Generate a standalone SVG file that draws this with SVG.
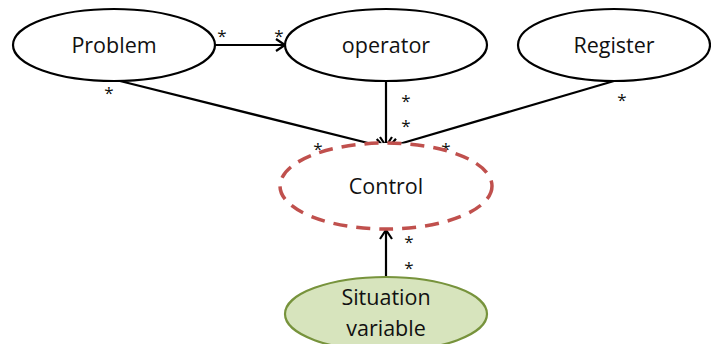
<svg xmlns="http://www.w3.org/2000/svg" width="711" height="344" viewBox="0 0 711 344">
<style>
.node{fill:#fff;stroke:#000;stroke-width:2.2}
.lbl{font-family:"Open Sans","Noto Sans",sans-serif;font-size:21.5px;fill:#111;text-anchor:middle}
.star{font-family:"Open Sans","Noto Sans",sans-serif;font-size:17px;fill:#111;text-anchor:middle}
.conn{stroke:#000;stroke-width:2.2;fill:none}
</style>
<defs>
<marker id="arr" markerWidth="14" markerHeight="14" refX="11" refY="7" orient="auto" markerUnits="userSpaceOnUse">
<path d="M2,1 L11,7 L2,13" fill="none" stroke="#000" stroke-width="2.2"/>
</marker>
</defs>
<rect width="711" height="344" fill="#fff"/>
<g id="connectors">
<line class="conn" x1="215" y1="45" x2="285" y2="45" marker-end="url(#arr)"/>
<line class="conn" x1="120" y1="81" x2="384" y2="147" marker-end="url(#arr)"/>
<line class="conn" x1="386" y1="81" x2="386" y2="146" marker-end="url(#arr)"/>
<line class="conn" x1="614" y1="81" x2="389" y2="147" marker-end="url(#arr)"/>
<line class="conn" x1="386" y1="277" x2="386" y2="230" marker-end="url(#arr)"/>
<text class="star" x="222" y="42">*</text>
<text class="star" x="279" y="42">*</text>
<text class="star" x="109" y="99">*</text>
<text class="star" x="318" y="155">*</text>
<text class="star" x="406" y="107">*</text>
<text class="star" x="406" y="132">*</text>
<text class="star" x="622" y="106">*</text>
<text class="star" x="446" y="155">*</text>
<text class="star" x="409" y="248">*</text>
<text class="star" x="409" y="274">*</text>
</g>
<g id="problem">
<ellipse class="node" cx="114" cy="45" rx="101" ry="36"/>
<text class="lbl" x="114" y="53">Problem</text>
</g>
<g id="operator">
<ellipse class="node" cx="386" cy="45" rx="101" ry="36"/>
<text class="lbl" x="386" y="53">operator</text>
</g>
<g id="register">
<ellipse class="node" cx="614" cy="45" rx="96" ry="36"/>
<text class="lbl" x="614" y="53">Register</text>
</g>
<g id="control">
<ellipse cx="386" cy="186" rx="106" ry="43" fill="#fff" stroke="#c0504d" stroke-width="3.5" stroke-dasharray="14,9"/>
<text class="lbl" x="386" y="194">Control</text>
</g>
<g id="situation">
<ellipse cx="386" cy="314" rx="101" ry="37" fill="#d7e4bd" stroke="#77933c" stroke-width="2.2"/>
<text class="lbl" x="386" y="305">Situation</text>
<text class="lbl" x="386" y="336">variable</text>
</g>
</svg>
